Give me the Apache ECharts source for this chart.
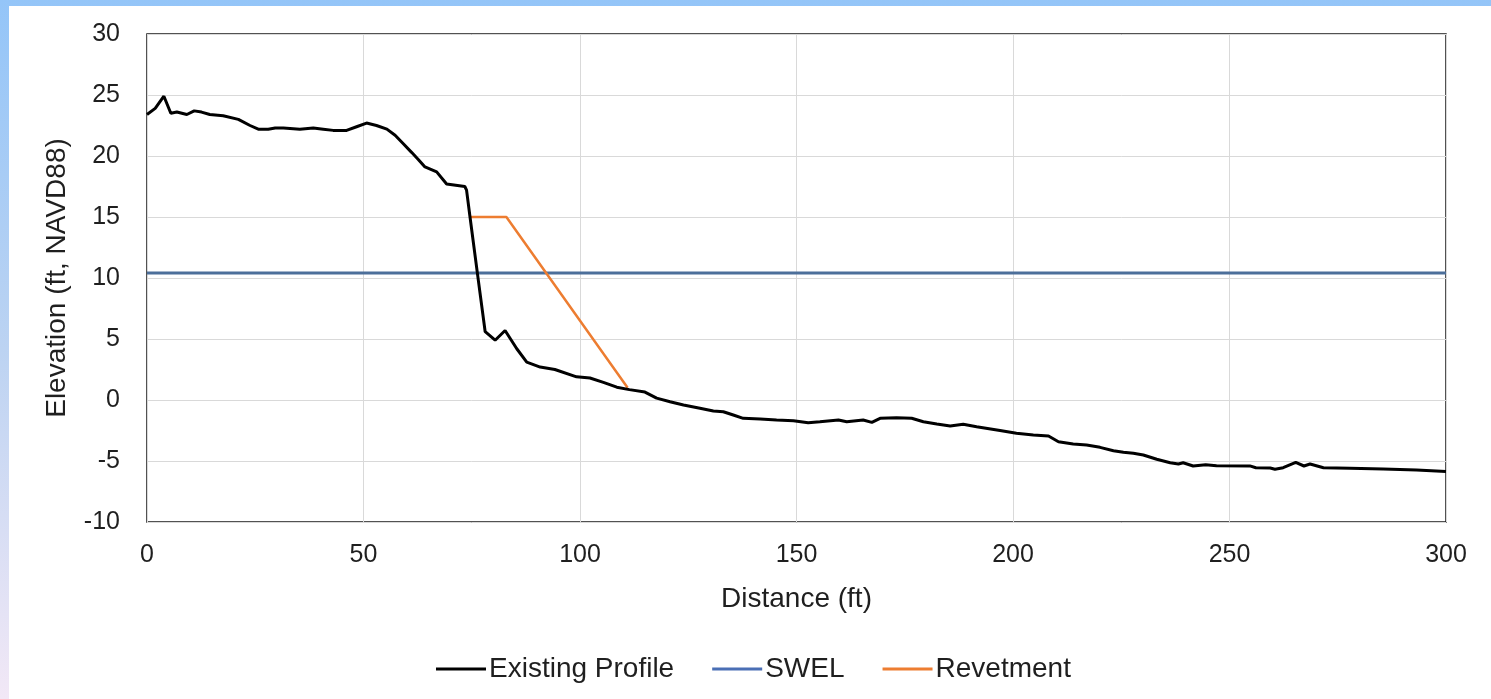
<!DOCTYPE html>
<html>
<head>
<meta charset="utf-8">
<script src="https://cdn.jsdelivr.net/npm/echarts@6/dist/echarts.min.js"></script>
<style>
  html, body { margin: 0; padding: 0; width: 1491px; height: 699px; overflow: hidden; }
  body { background: linear-gradient(to bottom, #94c5f8 0%, #bcd3f2 50%, #f2e8f6 100%); position: relative; }
  #chart { position: absolute; left: 9px; top: 6px; width: 1482px; height: 693px; background: #ffffff; }
</style>
</head>
<body>
<div id="chart"></div>
<script>
// Beach cross-section: surveyed ground profile, still-water level and proposed revetment
const profileX = [0, 1.9, 3.9, 5.5, 6.9, 9.2, 10.9, 12.6, 14.5, 17.6, 21.1, 23.8, 25.7, 28.0, 29.6, 31.5, 35.3, 38.4, 40.7, 43.0,
  46.1, 48.4, 50.7, 53.0, 55.4, 57.3, 59.2, 61.1, 62.7, 64.2, 66.9, 69.2, 73.4, 73.8, 74.6, 76.3, 78.1, 80.4, 82.7, 85.4,
  87.7, 90.8, 94.2, 99.2, 102.3, 105.4, 108.5, 111.4, 115.0, 117.7, 120.8, 123.9, 127.7, 130.8, 133.1, 135.4, 137.7, 141.6, 145.4, 149.3,
  152.7, 155.4, 159.7, 161.6, 165.4, 167.4, 169.3, 173.1, 176.6, 179.3, 182.4, 185.5, 188.5, 191.6, 197.0, 200.8, 204.7, 208.2, 210.5, 213.9,
  217.0, 220.1, 223.2, 225.5, 227.8, 230.1, 233.2, 236.3, 238.2, 239.3, 241.6, 244.5, 247.0, 254.7, 256.1, 259.4, 260.5, 262.4, 265.3, 267.2,
  268.6, 271.7, 277.8, 285.5, 293.2, 300];
const profileY = [23.4, 23.9, 24.9, 23.5, 23.6, 23.4, 23.7, 23.6, 23.4, 23.3, 23.0, 22.5, 22.2, 22.2, 22.3, 22.3, 22.2, 22.3, 22.2, 22.1,
  22.1, 22.4, 22.7, 22.5, 22.2, 21.7, 21.0, 20.3, 19.7, 19.1, 18.7, 17.7, 17.5, 17.2, 15.0, 10.4, 5.6, 4.9, 5.7, 4.2,
  3.1, 2.7, 2.5, 1.9, 1.8, 1.45, 1.05, 0.85, 0.65, 0.15, -0.14, -0.41, -0.68, -0.9, -0.96, -1.23, -1.5, -1.56, -1.64, -1.7,
  -1.86, -1.78, -1.64, -1.78, -1.64, -1.83, -1.5, -1.45, -1.5, -1.78, -1.97, -2.13, -1.99, -2.19, -2.5, -2.73, -2.87, -2.95, -3.42, -3.6,
  -3.69, -3.88, -4.16, -4.29, -4.37, -4.51, -4.86, -5.14, -5.25, -5.14, -5.41, -5.3, -5.38, -5.4, -5.55, -5.58, -5.68, -5.55, -5.12, -5.41,
  -5.25, -5.55, -5.6, -5.66, -5.74, -5.87];

const swelX = [0, 300];
const swelY = [10.4, 10.4];

const revetmentX = [74.5, 83, 111];
const revetmentY = [15, 15, 1];

const seriesNames = ['Existing Profile', 'SWEL', 'Revetment'];
const xTitle = 'Distance (ft)';
const yTitle = 'Elevation (ft, NAVD88)';

const pairs = (xs, ys) => xs.map((x, i) => [x, ys[i]]);

const FONT = '"Liberation Sans", Arial, sans-serif';
const TEXT = '#1f1f1f';

const chart = echarts.init(document.getElementById('chart'), null, { renderer: 'canvas' });
chart.setOption({
  animation: false,
  backgroundColor: '#ffffff',
  grid: {
    left: 138, right: 45, top: 28, bottom: 177,
    show: true, borderColor: '#1a1a1a', borderWidth: 1.5, backgroundColor: 'transparent'
  },
  legend: {
    data: seriesNames.map(n => ({ name: n, icon: 'rect' })),
    left: 422, top: 644,
    itemWidth: 50, itemHeight: 3, itemGap: 38,
    textStyle: { fontFamily: FONT, fontSize: 28, color: TEXT, padding: [0, 0, 0, -2] }
  },
  xAxis: {
    type: 'value', min: 0, max: 300, interval: 50,
    name: xTitle, nameLocation: 'middle', nameGap: 63,
    nameTextStyle: { fontFamily: FONT, fontSize: 28, color: TEXT },
    axisLine: { show: false }, axisTick: { show: false },
    axisLabel: { fontFamily: FONT, fontSize: 25, color: TEXT, margin: 21 },
    splitLine: { show: true, lineStyle: { color: '#d9d9d9', width: 1 } }
  },
  yAxis: {
    type: 'value', min: -10, max: 30, interval: 5,
    name: yTitle, nameLocation: 'middle', nameGap: 76,
    nameTextStyle: { fontFamily: FONT, fontSize: 28, color: TEXT },
    axisLine: { show: false }, axisTick: { show: false },
    axisLabel: { fontFamily: FONT, fontSize: 25, color: TEXT, margin: 27 },
    splitLine: { show: true, lineStyle: { color: '#d9d9d9', width: 1 } }
  },
  series: [
    {
      name: seriesNames[0], type: 'line', data: pairs(profileX, profileY),
      showSymbol: false, symbol: 'none', z: 4,
      lineStyle: { color: '#000000', width: 3 }, itemStyle: { color: '#000000' }
    },
    {
      name: seriesNames[1], type: 'line', data: pairs(swelX, swelY),
      showSymbol: false, symbol: 'none', z: 2,
      lineStyle: { color: '#4c6f9a', width: 3 }, itemStyle: { color: '#4a6fb5' }
    },
    {
      name: seriesNames[2], type: 'line', data: pairs(revetmentX, revetmentY),
      showSymbol: false, symbol: 'none', z: 3,
      lineStyle: { color: '#ed7d31', width: 2.5 }, itemStyle: { color: '#ed7d31' }
    }
  ]
});
</script>
</body>
</html>
